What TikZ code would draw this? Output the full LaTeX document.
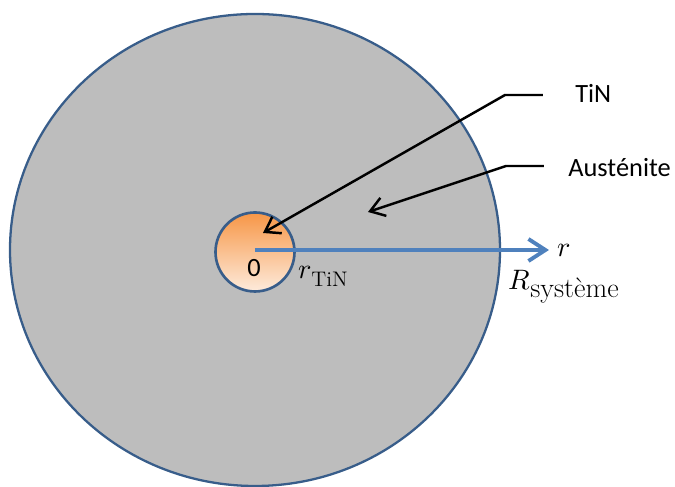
\documentclass[tikz,border=0pt]{standalone}
\usepackage{amsmath}
\usepackage{fontspec}
\usepackage{unicode-math}
\setmathfont{Latin Modern Math}
\newfontfamily\calibri{Carlito}
\usepackage{tikz}
\usetikzlibrary{arrows.meta}
\definecolor{rimblue}{RGB}{56,93,138}
\definecolor{axisblue}{RGB}{79,129,189}
\definecolor{coreorange}{RGB}{247,150,70}
\definecolor{corelight}{RGB}{253,235,220}

\begin{document}
\begin{tikzpicture}[
  every node/.style={font=\fontsize{15}{18}\selectfont,inner sep=0pt},
  mathlabel/.style={font=\fontsize{16}{19}\selectfont},
  leader/.style={line width=1.4pt,-{Straight Barb[length=2.8mm,width=3.8mm]}}]
\useasboundingbox (-5.1,-4.74) rectangle (8.4,5.0);
% Matrix (austenite) and TiN core
\filldraw[draw=rimblue,line width=1.3pt,fill=black!26] (0,0) ellipse [x radius=4.9,y radius=4.72];
\draw[rimblue,line width=1.5pt,top color=coreorange,bottom color=corelight] (0,-0.04) circle (0.79);
% Radial axis
\coordinate (origin) at (0,0);
\node[mathlabel,anchor=base west] (raxis) at (6.04,-0.14) {$r$};
\draw[axisblue,line width=2.2pt,-{Straight Barb[length=3.4mm,width=4.4mm]}] (origin) -- ([xshift=-0.16cm]origin -| raxis.west);
% Labels
\node[anchor=base] (zero) at (-0.02,-0.54) {\calibri 0};
\node[mathlabel,anchor=base west] (rtin) at (0.86,-0.58) {$r$\raisebox{-4pt}{\fontsize{12}{14}\selectfont TiN}};
\node[mathlabel,anchor=base west] (rsys) at (5.06,-0.8) {$R$\raisebox{-4pt}{système}};
\node[anchor=base west] (tin) at (6.4,2.94) {\calibri TiN};
\node[anchor=base west] (aus) at (6.26,1.46) {\calibri Austénite};
% Leader lines
\coordinate (tinstart) at (5.76,3.1);
\coordinate (tinknee) at (5.0,3.1);
\coordinate (tintip) at (0.16,0.34);
\coordinate (ausstart) at (5.78,1.68);
\coordinate (ausknee) at (5.02,1.68);
\coordinate (austip) at (2.26,0.76);
\draw[leader] (tinstart) -- (tinknee) -- (tintip);
\draw[leader] (ausstart) -- (ausknee) -- (austip);
\end{tikzpicture}
\end{document}
